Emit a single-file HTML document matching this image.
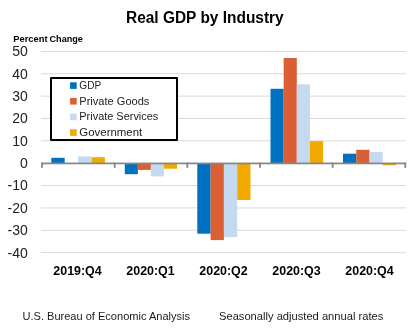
<!DOCTYPE html>
<html><head><meta charset="utf-8"><style>
html,body{margin:0;padding:0;background:#fff;width:414px;height:332px;overflow:hidden}
svg{display:block;will-change:transform}
text{font-family:"Liberation Sans",sans-serif}
.ti{font-size:16px;font-weight:bold;fill:#000}
.pc{font-size:9.8px;font-weight:bold;fill:#000}
.yl{font-size:14px;fill:#222}
.cl{font-size:12.5px;font-weight:bold;fill:#000}
.lg{font-size:10px;fill:#222}
.ft{font-size:11.5px;fill:#1a1a1a}
</style></head><body>
<svg width="414" height="332" viewBox="0 0 414 332">
<rect x="41.0" y="50.90" width="365.0" height="1" fill="#D9D9D9"/>
<rect x="41.0" y="73.26" width="365.0" height="1" fill="#D9D9D9"/>
<rect x="41.0" y="95.62" width="365.0" height="1" fill="#D9D9D9"/>
<rect x="41.0" y="117.98" width="365.0" height="1" fill="#D9D9D9"/>
<rect x="41.0" y="140.34" width="365.0" height="1" fill="#D9D9D9"/>
<rect x="41.0" y="185.06" width="365.0" height="1" fill="#D9D9D9"/>
<rect x="41.0" y="207.42" width="365.0" height="1" fill="#D9D9D9"/>
<rect x="41.0" y="229.78" width="365.0" height="1" fill="#D9D9D9"/>
<rect x="41.0" y="252.14" width="365.0" height="1" fill="#D9D9D9"/>
<rect x="51.30" y="157.80" width="13.40" height="5.40" fill="#0070C0"/>
<rect x="78.10" y="156.40" width="13.40" height="6.80" fill="#C5D9F1"/>
<rect x="91.50" y="157.20" width="13.40" height="6.00" fill="#F2A900"/>
<rect x="124.80" y="163.20" width="13.05" height="11.00" fill="#0070C0"/>
<rect x="137.85" y="163.20" width="13.05" height="6.70" fill="#DA5F33"/>
<rect x="150.90" y="163.20" width="13.05" height="13.20" fill="#C5D9F1"/>
<rect x="163.95" y="163.20" width="13.05" height="5.50" fill="#F2A900"/>
<rect x="197.30" y="163.20" width="13.30" height="70.50" fill="#0070C0"/>
<rect x="210.60" y="163.20" width="13.30" height="76.90" fill="#DA5F33"/>
<rect x="223.90" y="163.20" width="13.30" height="73.90" fill="#C5D9F1"/>
<rect x="237.20" y="163.20" width="13.30" height="36.80" fill="#F2A900"/>
<rect x="270.50" y="88.80" width="13.15" height="74.40" fill="#0070C0"/>
<rect x="283.65" y="58.00" width="13.15" height="105.20" fill="#DA5F33"/>
<rect x="296.80" y="84.40" width="13.15" height="78.80" fill="#C5D9F1"/>
<rect x="309.95" y="141.10" width="13.15" height="22.10" fill="#F2A900"/>
<rect x="343.00" y="153.70" width="13.25" height="9.50" fill="#0070C0"/>
<rect x="356.25" y="149.80" width="13.25" height="13.40" fill="#DA5F33"/>
<rect x="369.50" y="152.00" width="13.25" height="11.20" fill="#C5D9F1"/>
<rect x="382.75" y="163.20" width="13.25" height="2.10" fill="#F2A900"/>
<rect x="41.1" y="162.55" width="365" height="1.75" fill="#868686"/>
<rect x="41.10" y="162.55" width="1.8" height="5.3" fill="#868686"/>
<rect x="113.76" y="162.55" width="1.8" height="5.3" fill="#868686"/>
<rect x="186.42" y="162.55" width="1.8" height="5.3" fill="#868686"/>
<rect x="259.08" y="162.55" width="1.8" height="5.3" fill="#868686"/>
<rect x="331.74" y="162.55" width="1.8" height="5.3" fill="#868686"/>
<rect x="404.40" y="162.55" width="1.8" height="5.3" fill="#868686"/>
<text x="27.8" y="56.30" text-anchor="end" class="yl">50</text>
<text x="27.8" y="78.66" text-anchor="end" class="yl">40</text>
<text x="27.8" y="101.02" text-anchor="end" class="yl">30</text>
<text x="27.8" y="123.38" text-anchor="end" class="yl">20</text>
<text x="27.8" y="145.74" text-anchor="end" class="yl">10</text>
<text x="27.8" y="168.10" text-anchor="end" class="yl">0</text>
<text x="27.8" y="190.46" text-anchor="end" class="yl">-10</text>
<text x="27.8" y="212.82" text-anchor="end" class="yl">-20</text>
<text x="27.8" y="235.18" text-anchor="end" class="yl">-30</text>
<text x="27.8" y="257.54" text-anchor="end" class="yl">-40</text>
<text x="77.50" y="274.9" text-anchor="middle" class="cl" textLength="48.4" lengthAdjust="spacingAndGlyphs">2019:Q4</text>
<text x="150.50" y="274.9" text-anchor="middle" class="cl" textLength="48.4" lengthAdjust="spacingAndGlyphs">2020:Q1</text>
<text x="223.50" y="274.9" text-anchor="middle" class="cl" textLength="48.4" lengthAdjust="spacingAndGlyphs">2020:Q2</text>
<text x="296.50" y="274.9" text-anchor="middle" class="cl" textLength="48.4" lengthAdjust="spacingAndGlyphs">2020:Q3</text>
<text x="369.50" y="274.9" text-anchor="middle" class="cl" textLength="48.4" lengthAdjust="spacingAndGlyphs">2020:Q4</text>
<rect x="51" y="78" width="126" height="62" fill="#fff" stroke="#000" stroke-width="2" stroke-linejoin="round"/>
<rect x="70.1" y="82.30" width="6.6" height="6.6" fill="#0070C0"/>
<text x="79.3" y="89.10" class="lg" textLength="21.9" lengthAdjust="spacingAndGlyphs">GDP</text>
<rect x="70.1" y="97.95" width="6.6" height="6.6" fill="#DA5F33"/>
<text x="79.3" y="104.75" class="lg" textLength="70.1" lengthAdjust="spacingAndGlyphs">Private Goods</text>
<rect x="70.1" y="113.60" width="6.6" height="6.6" fill="#C5D9F1"/>
<text x="79.3" y="120.40" class="lg" textLength="79.0" lengthAdjust="spacingAndGlyphs">Private Services</text>
<rect x="70.1" y="129.25" width="6.6" height="6.6" fill="#F2A900"/>
<text x="79.3" y="136.05" class="lg" textLength="63.0" lengthAdjust="spacingAndGlyphs">Government</text>
<text x="126.0" y="22.8" class="ti" textLength="157.7" lengthAdjust="spacingAndGlyphs">Real GDP by Industry</text>
<text x="13.3" y="41.6" class="pc" textLength="34.2" lengthAdjust="spacingAndGlyphs">Percent</text>
<text x="49.5" y="41.6" class="pc" textLength="33.4" lengthAdjust="spacingAndGlyphs">Change</text>
<text x="22.5" y="319.6" class="ft" textLength="167.5" lengthAdjust="spacingAndGlyphs">U.S. Bureau of Economic Analysis</text>
<text x="219.0" y="319.6" class="ft" textLength="164.3" lengthAdjust="spacingAndGlyphs">Seasonally adjusted annual rates</text>
</svg>
</body></html>
